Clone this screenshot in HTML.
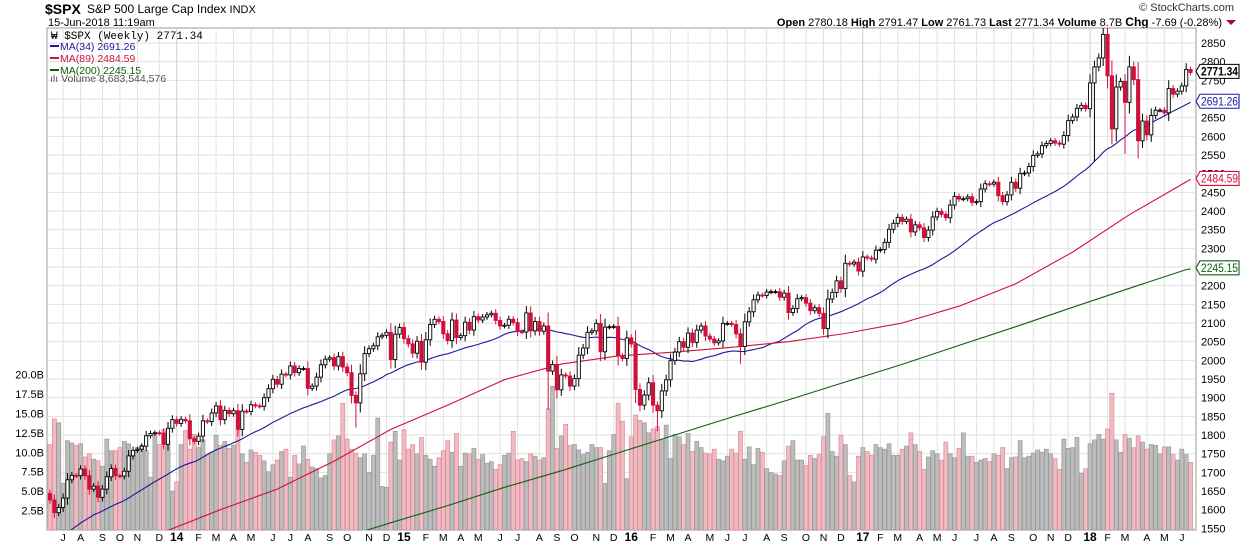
<!DOCTYPE html>
<html><head><meta charset="utf-8"><style>
html,body{margin:0;padding:0;background:#fff;overflow:hidden;width:1240px;height:546px;}
svg{display:block;font-family:"Liberation Sans",sans-serif;overflow:hidden;}
</style></head><body>
<svg id="chart" width="1240" height="546" viewBox="0 0 1240 546" xmlns="http://www.w3.org/2000/svg">
<text x="45" y="14" font-size="14" font-weight="bold">$SPX</text>
<text x="87" y="13" font-size="12">S&amp;P 500 Large Cap Index <tspan font-size="11">INDX</tspan></text>
<text x="48" y="26" font-size="11">15-Jun-2018 11:19am</text>
<text x="1234" y="11" font-size="11" text-anchor="end" fill="#333">© StockCharts.com</text>
<text x="1222" y="26" font-size="11" text-anchor="end"><tspan font-weight="bold">Open</tspan> 2780.18 <tspan font-weight="bold">High</tspan> 2791.47 <tspan font-weight="bold">Low</tspan> 2761.73 <tspan font-weight="bold">Last</tspan> 2771.34 <tspan font-weight="bold">Volume</tspan> 8.7B <tspan font-weight="bold" font-size="12">Chg</tspan> -7.69 (-0.28%)</text>
<polygon points="1226,20 1236,20 1231,25" fill="#a0102a"/>
<rect x="47" y="28" width="1149" height="502" fill="#fff" stroke="#999"/>
<g id="grid"></g>
<g id="vol" clip-path="url(#clip)"></g>
<g id="mas" clip-path="url(#clip)"></g>
<g id="candles" clip-path="url(#clip)"></g>
<g id="axes"></g>
<defs><clipPath id="clip"><rect x="47" y="28" width="1149" height="502"/></clipPath></defs>
<g font-size="10.5">
<text x="51" y="39" font-family="'Liberation Mono',monospace" font-size="11">₩ $SPX (Weekly) 2771.34</text>
<line x1="50" y1="46" x2="59" y2="46" stroke="#1a1a9a" stroke-width="2"/>
<text x="60" y="50" fill="#1a1a9a">MA(34) 2691.26</text>
<line x1="50" y1="58" x2="59" y2="58" stroke="#d0103a" stroke-width="2"/>
<text x="60" y="62" fill="#d0103a">MA(89) 2484.59</text>
<line x1="50" y1="70" x2="59" y2="70" stroke="#106010" stroke-width="2"/>
<text x="60" y="74" fill="#106010">MA(200) 2245.15</text>
<text x="50" y="82" fill="#555">ılı Volume 8,683,544,576</text>
</g>
<g id="tags"></g>
</svg>
<script>
const closes = [1626,1592,1606,1631,1680,1692,1691,1709,1691,1655,1663,1633,1655,1688,1710,1691,1690,1703,1744,1759,1762,1770,1798,1804,1806,1805,1775,1818,1841,
1831,1842,1838,1790,1783,1797,1838,1836,1859,1878,1841,1866,1857,1865,1815,1864,1863,1881,1878,1877,1900,1924,1949,1936,1963,1961,1985,1967,1978,1978,1925,1931,1955,1988,2003,2007,1985,2010,1982,1967,1906,1886,1964,2018,2031,2039,2063,2067,2075,2002,2070,2088,
2058,2044,2019,2051,1995,2055,2096,2110,2104,2071,2053,2108,2061,2066,2102,2081,2117,2108,2116,2122,2126,2107,2092,2094,2110,2101,2077,2076,2127,2079,2104,2078,2092,1971,1989,1921,1961,1958,1931,1951,2014,2033,2075,2079,2099,2023,2089,2090,2091,2012,2005,2060,
2044,1922,1880,1907,1940,1880,1865,1918,1948,1999,2022,2050,2035,2073,2048,2081,2092,2065,2057,2047,2052,2099,2099,2096,2071,2037,2103,2130,2162,2175,2174,2183,2184,2184,2169,2180,2128,2139,2165,2168,2153,2133,2141,2126,2085,2164,2182,2213,2192,2260,2258,2263,2239,
2277,2274,2271,2295,2297,2316,2351,2367,2383,2372,2378,2344,2363,2355,2329,2349,2384,2399,2391,2382,2416,2439,2432,2433,2438,2423,2425,2459,2473,2472,2477,2441,2425,2443,2477,2461,2500,2502,2519,2549,2553,2575,2581,2588,2582,2579,2602,2642,2652,2675,2683,2674,
2743,2786,2810,2873,2762,2620,2732,2747,2691,2786,2752,2588,2641,2604,2656,2670,2670,2663,2728,2713,2721,2735,2779,2771];
const priorCloses = [1414,1380,1359,1409,1416,1418,1406,1413,1430,1430,1402,1466,1472,1486,1503,1502,1513,1518,1519,1502,1518,1525,1551,1561,1556,1569,1553,1588,1583,1614,1633,1667,1650,1643];
const volumes = [11.0,14.3,13.8,6.0,11.5,11.2,10.9,11.1,9.4,9.8,9.1,8.9,8.2,11.7,10.2,10.2,10.6,11.4,11.1,9.5,10.6,10.9,10.2,6.8,12.2,11.0,12.9,11.5,5.0,
6.2,11.0,12.8,10.4,12.3,10.6,11.6,9.7,10.0,12.2,10.9,11.4,10.5,10.9,12.8,9.8,8.7,10.3,10.0,9.6,8.9,7.5,8.4,9.0,10.1,10.4,6.8,9.6,8.5,10.8,9.1,8.1,7.9,6.7,7.0,9.8,11.6,12.1,16.3,11.7,10.4,9.9,9.3,9.8,7.4,9.6,14.4,5.6,5.5,11.3,12.7,9.0,
12.9,10.4,11.0,9.8,11.9,9.6,9.1,8.2,9.3,10.2,11.5,10.0,12.4,8.2,9.9,9.8,10.5,9.1,9.7,8.6,8.8,7.8,8.4,9.6,9.9,12.7,9.0,9.2,8.8,9.8,9.5,9.0,9.3,15.6,18.5,10.5,12.1,13.6,10.9,11.0,10.3,9.7,10.0,11.0,10.6,10.6,6.0,10.2,12.3,16.3,14.0,6.6,
12.0,14.8,14.1,13.8,12.5,13.0,13.3,11.6,13.5,9.2,12.3,12.0,11.0,12.4,10.1,11.4,10.6,9.9,9.8,10.4,9.1,8.9,9.5,10.4,9.9,12.7,9.1,10.7,8.4,10.5,10.0,7.9,7.4,7.2,7.0,8.9,10.8,11.5,9.0,9.0,8.3,9.6,9.2,9.7,12.0,15.0,10.1,9.5,12.2,11.0,7.0,6.2,9.5,
10.6,10.1,9.6,11.0,10.6,10.4,11.1,9.6,9.6,10.4,10.8,12.5,11.0,10.1,7.8,9.4,10.2,9.8,9.0,11.3,9.8,9.3,10.5,12.5,9.5,9.5,8.7,9.0,9.2,8.8,9.8,9.6,10.6,7.9,9.3,9.4,11.5,9.3,9.5,9.9,10.3,10.0,10.4,9.8,9.2,7.8,11.7,10.5,10.6,11.9,7.3,7.9,
11.1,11.6,12.3,11.7,13.0,17.6,11.6,10.0,12.3,11.8,10.6,12.1,11.3,10.4,11.0,10.9,9.8,10.7,10.7,9.7,9.0,10.4,9.7,8.7];
const ma89Idx = [0,13,26,39,52,65,78,91,104,117,130,143,156,169,182,195,208,221,234,247,260,261];
const ma89Val = [1475,1505,1540,1600,1655,1730,1815,1880,1948,1990,2012,2022,2035,2050,2072,2100,2145,2205,2290,2390,2478,2484.59];
const ma200Val = [1290,1330,1380,1425,1470,1518,1565,1611,1660,1704,1752,1800,1848,1894,1942,1989,2040,2090,2142,2193,2243,2245.15];
const extremeLowIdx = [70,114,139,158,239,246];
const extremeLowVal = [1820,1867,1810,1991,2532,2553];
const priceTicks = [1550,1600,1650,1700,1750,1800,1850,1900,1950,2000,2050,2100,2150,2200,2250,2300,2350,2400,2450,2500,2550,2600,2650,2700,2750,2800,2850];
const volTicks = [2.5,5,7.5,10,12.5,15,17.5,20];
const monthLetters = ['J','F','M','A','M','J','J','A','S','O','N','D'];

const NS='http://www.w3.org/2000/svg';
const PL=47,PR=1196,PT=28,PB=530;
const xOf=i=>50+i*4.37;
const yP=p=>43+(2850-p)*0.37333;
const yV=v=>530-v*7.77;
function mk(tag,attrs,parent){const e=document.createElementNS(NS,tag);for(const k in attrs)e.setAttribute(k,attrs[k]);parent.appendChild(e);return e;}
const grid=document.getElementById('grid'),axes=document.getElementById('axes');
const start=new Date(Date.UTC(2013,5,14));
const dates=closes.map((_,i)=>new Date(start.getTime()+i*7*864e5));
priceTicks.forEach(p=>{
  const y=yP(p);
  const l=mk('line',{x1:PL,x2:PR,y1:y,y2:y,stroke:'#e2e2e2'},grid);
  
  
  const t=mk('text',{x:1201,y:y+4,'font-size':11},axes);
  
  
  t.textContent=p;
});
volTicks.forEach(v=>{
  const y=yV(v);
  const t=mk('text',{x:44,y:y+4,'font-size':11,'text-anchor':'end'},axes);
  
  
  t.textContent=v.toFixed(1)+'B';
});
for(let i=1;i<dates.length;i++){
  const m=dates[i].getUTCMonth();
  if(m!==dates[i-1].getUTCMonth()){
    const x=xOf(i);
    const l=mk('line',{x1:x,x2:x,y1:PT,y2:PB,stroke:m===0?'#cfcfcf':'#e2e2e2'},grid);
    
    
    const t=mk('text',{x:x,y:541,'font-size':m===0?12:10.5,'text-anchor':'middle','font-weight':m===0?'bold':'normal'},axes);
    
    
    t.textContent=m===0?String(dates[i].getUTCFullYear()).slice(2):monthLetters[m];
  }
}
const volG=document.getElementById('vol');
volumes.forEach((v,i)=>{
  if(i>=closes.length)return;
  const prev=i===0?1643:closes[i-1];
  const down=closes[i]<prev;
  const y=yV(v);
  const r=mk('rect',{x:xOf(i)-2,y:y,width:4,height:PB-y,fill:down?'#f0bcc4':'#bcbcbc',stroke:down?'#dc8a98':'#9a9a9a','stroke-width':0.7},volG);
  
  
});
const masG=document.getElementById('mas');
const all=priorCloses.concat(closes);
let pts=[];
for(let i=0;i<closes.length;i++){const j=i+priorCloses.length;let s=0;for(let k=j-33;k<=j;k++)s+=all[k];pts.push(xOf(i).toFixed(1)+','+yP(s/34).toFixed(1));}
const ma34=mk('polyline',{points:pts.join(' '),fill:'none',stroke:'#1a1a9a','stroke-width':1.1},masG);


const p89=mk('polyline',{points:ma89Idx.map((ix,k)=>xOf(ix).toFixed(1)+','+yP(ma89Val[k]).toFixed(1)).join(' '),fill:'none',stroke:'#d0103a','stroke-width':1.1},masG);


const p200=mk('polyline',{points:ma89Idx.map((ix,k)=>xOf(ix).toFixed(1)+','+yP(ma200Val[k]).toFixed(1)).join(' '),fill:'none',stroke:'#106010','stroke-width':1.1},masG);


const cG=document.getElementById('candles');
closes.forEach((c,i)=>{
  const o=i===0?1643:closes[i-1];
  const up=c>=o;
  const col=up?'#000':'#d0103a';
  const hiP=Math.max(o,c)+6+Math.abs(c-o)*0.25;
  let loP=Math.min(o,c)-6-Math.abs(c-o)*0.25;
  const ei=extremeLowIdx.indexOf(i); if(ei>=0)loP=extremeLowVal[ei];
  const x=xOf(i);
  const w=mk('line',{x1:x,x2:x,y1:yP(hiP),y2:yP(loP),stroke:col,'stroke-width':1},cG);
  
  
  const yt=yP(Math.max(o,c)),yb=yP(Math.min(o,c));
  const b=mk('rect',{x:x-1.6,y:yt,width:3.2,height:Math.max(1,yb-yt),fill:up?'#fff':'#d0103a',stroke:col,'stroke-width':0.9},cG);
  
  
});
const tagsG=document.getElementById('tags');
function tag(val,y,color,bold,name){
  const g=mk('g',{},tagsG);
  
  
  mk('polygon',{points:`1196,${y} 1200,${y-7} 1239,${y-7} 1239,${y+7} 1200,${y+7}`,fill:'#fff',stroke:color,'stroke-width':1.1},g);
  const t=mk('text',{x:1201,y:y+4,'font-size':11.5,'font-weight':bold?'bold':'normal',fill:color,textLength:37,lengthAdjust:'spacingAndGlyphs'},g);
  t.textContent=val;
}
tag('2691.26',yP(2691.26)-1,'#1a1a9a',false,'ma34-price-tag');
tag('2484.59',yP(2484.59)-1,'#d0103a',false,'ma89-price-tag');
tag('2245.15',yP(2245.15)-1,'#106010',false,'ma200-price-tag');
tag('2771.34',yP(2771.34)-1,'#000',true,'last-price-tag');
</script>
</body></html>
